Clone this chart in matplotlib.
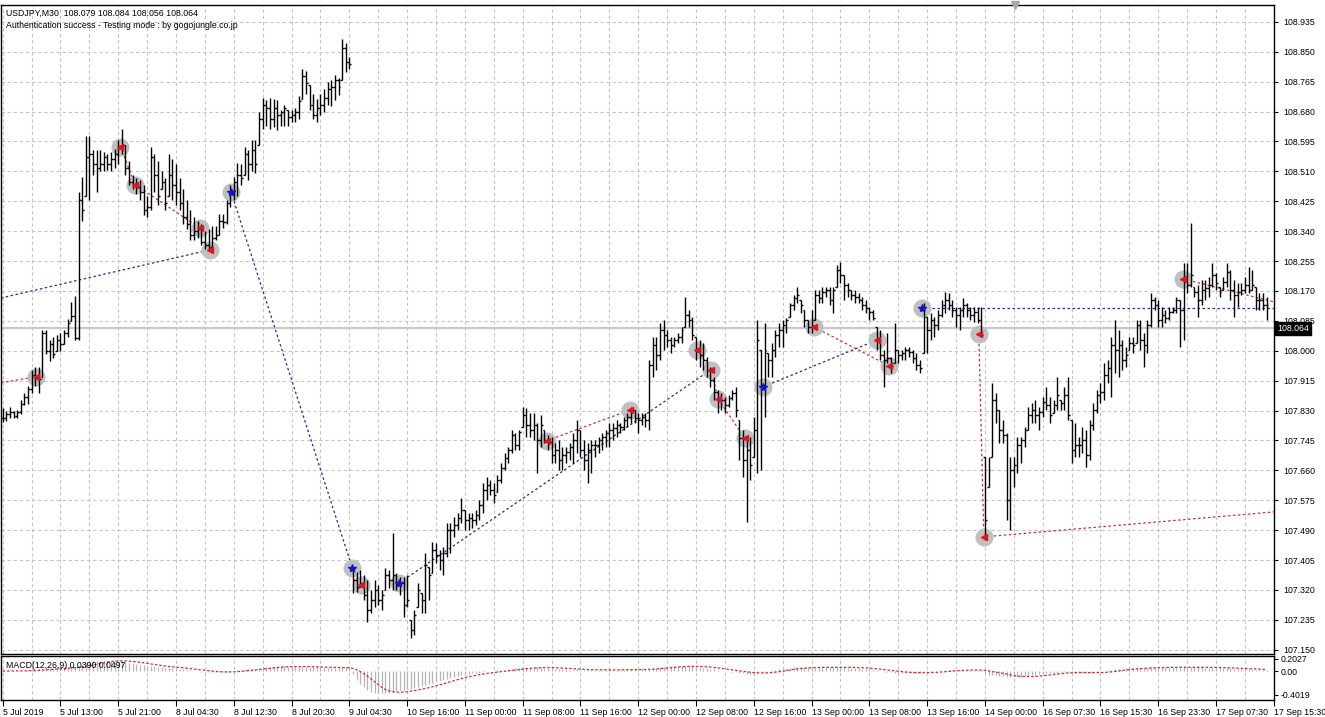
import numpy as np
import pandas as pd
import matplotlib
matplotlib.use('Agg')
import matplotlib.pyplot as plt

plt.rcParams['font.family'] = ['Liberation Sans', 'DejaVu Sans']

# USDJPY M30 bars (5 Jul 2019 ... 9 Jul, then 10 Sep ... 17 Sep)
highs = [
 107.837,107.830,107.840,107.830,107.832,107.860,107.880,107.900,107.945,107.955,
 107.955,108.060,108.060,108.030,108.040,108.045,108.050,108.060,108.090,108.140,
 108.155,108.450,108.495,108.610,108.610,108.570,108.570,108.570,108.565,108.560,
 108.565,108.575,108.600,108.630,108.585,108.540,108.500,108.490,108.485,108.470,
 108.440,108.580,108.560,108.540,108.510,108.490,108.560,108.545,108.530,108.490,
 108.460,108.430,108.400,108.380,108.370,108.360,108.340,108.345,108.355,108.355,
 108.390,108.390,108.430,108.470,108.495,108.535,108.530,108.580,108.570,108.600,
 108.600,108.680,108.720,108.713,108.720,108.715,108.713,108.685,108.700,108.685,
 108.685,108.690,108.725,108.800,108.795,108.755,108.730,108.715,108.730,108.745,
 108.765,108.770,108.785,108.775,108.885,108.875,108.835,
 107.385,107.371,107.377,107.363,107.349,107.320,107.349,107.334,107.320,107.383,
 107.377,107.482,107.368,107.357,107.357,107.363,107.235,107.263,107.340,107.312,
 107.425,107.385,107.457,107.454,107.434,107.442,107.511,107.511,107.528,107.539,
 107.582,107.548,107.539,107.539,107.548,107.576,107.624,107.641,107.633,107.624,
 107.647,107.681,107.710,107.727,107.775,107.767,107.775,107.840,107.838,107.823,
 107.823,107.795,107.818,107.775,107.761,107.755,107.738,107.747,107.727,107.727,
 107.738,107.767,107.803,107.775,107.747,107.738,107.747,107.747,107.755,107.767,
 107.775,107.795,107.795,107.803,107.795,107.812,107.823,107.840,107.832,107.823,
 107.823,107.823,
 107.974,108.039,108.039,108.079,108.088,108.059,108.039,108.039,108.051,108.068,
 108.153,108.116,108.096,108.039,108.031,108.022,107.983,107.954,107.926,107.889,
 107.880,107.869,107.875,107.889,107.897,107.803,107.775,107.755,107.755,107.812,
 108.088,108.002,108.079,107.994,108.022,108.059,108.079,108.088,108.093,108.136,
 108.159,108.182,108.145,108.116,108.088,108.116,108.173,108.173,108.182,108.182,
 108.182,108.182,108.244,108.253,108.216,108.193,108.173,108.173,108.164,108.153,
 108.145,108.125,108.116,108.068,108.059,108.002,108.051,107.983,108.079,108.002,
 108.002,108.011,108.011,108.002,107.994,107.974,108.136,108.096,108.108,108.096,
 108.116,108.145,108.167,108.164,108.145,108.125,108.125,108.150,108.136,108.125,
 108.125,108.125,108.125,
 107.698,107.698,107.909,107.880,107.832,107.803,107.767,107.698,107.698,107.755,
 107.755,107.784,107.840,107.852,107.860,107.840,107.869,107.897,107.869,107.860,
 107.926,107.860,107.897,107.926,107.803,107.795,107.755,107.784,107.775,107.803,
 107.852,107.889,107.909,107.966,107.974,108.039,108.088,108.059,108.031,108.011,
 108.039,108.039,108.088,108.088,108.051,108.088,108.164,108.153,108.145,108.125,
 108.116,108.125,108.125,108.153,108.145,108.250,108.250,108.363,108.182,108.187,
 108.201,108.201,108.210,108.250,108.221,108.182,108.210,108.250,108.230,108.201,
 108.193,108.193,108.210,108.238,108.230,108.182,108.164,108.164,108.153]
lows = [
 107.797,107.800,107.810,107.808,107.808,107.820,107.845,107.850,107.880,107.900,
 107.880,107.925,107.990,107.970,107.980,108.000,108.000,108.020,108.040,108.085,
 108.030,108.030,108.370,108.440,108.430,108.500,108.450,108.510,108.510,108.515,
 108.510,108.520,108.530,108.560,108.500,108.470,108.460,108.445,108.430,108.385,
 108.380,108.400,108.450,108.415,108.460,108.400,108.440,108.430,108.415,108.400,
 108.360,108.345,108.315,108.315,108.320,108.300,108.290,108.285,108.295,108.315,
 108.330,108.350,108.360,108.410,108.430,108.440,108.470,108.500,108.485,108.510,
 108.505,108.585,108.630,108.640,108.630,108.635,108.628,108.640,108.640,108.640,
 108.650,108.650,108.660,108.715,108.730,108.685,108.660,108.650,108.670,108.680,
 108.700,108.695,108.713,108.727,108.770,108.792,108.800,
 107.312,107.314,107.329,107.292,107.229,107.255,107.272,107.277,107.263,107.320,
 107.326,107.320,107.320,107.306,107.243,107.272,107.184,107.192,107.272,107.255,
 107.255,107.292,107.368,107.397,107.377,107.363,107.414,107.425,107.471,107.491,
 107.511,107.491,107.491,107.496,107.505,107.519,107.539,107.576,107.590,107.568,
 107.599,107.624,107.661,107.681,107.710,107.718,107.718,107.784,107.755,107.755,
 107.747,107.653,107.727,107.738,107.718,107.681,107.681,107.661,107.661,107.681,
 107.690,107.681,107.710,107.698,107.661,107.624,107.653,107.698,107.710,107.718,
 107.727,107.727,107.747,107.755,107.767,107.775,107.784,107.795,107.795,107.767,
 107.789,107.784,
 107.775,107.926,107.946,107.974,108.002,108.011,107.994,108.011,108.022,108.022,
 108.068,108.068,108.031,107.974,107.954,107.946,107.926,107.897,107.860,107.823,
 107.832,107.823,107.840,107.860,107.812,107.690,107.641,107.513,107.633,107.698,
 107.653,107.661,107.812,107.926,107.926,107.983,108.011,108.011,108.051,108.096,
 108.116,108.136,108.108,108.068,108.051,108.051,108.088,108.136,108.136,108.153,
 108.130,108.108,108.182,108.193,108.145,108.153,108.145,108.136,108.136,108.116,
 108.108,108.088,108.088,108.002,107.974,107.897,107.966,107.937,107.966,107.966,
 107.974,107.974,107.983,107.966,107.946,107.937,107.994,107.994,108.031,108.039,
 108.059,108.096,108.108,108.116,108.096,108.068,108.059,108.096,108.096,108.088,
 108.082,108.079,108.039,
 107.462,107.613,107.698,107.795,107.738,107.738,107.519,107.491,107.613,107.653,
 107.681,107.727,107.775,107.795,107.795,107.775,107.812,107.832,107.795,107.823,
 107.832,107.832,107.832,107.803,107.681,107.698,107.698,107.710,107.670,107.690,
 107.775,107.823,107.852,107.860,107.909,107.869,107.937,107.926,107.946,107.954,
 108.002,107.994,108.022,108.002,107.954,107.994,108.068,108.116,108.068,108.068,
 108.079,108.088,108.108,108.108,108.011,108.031,108.164,108.182,108.153,108.096,
 108.130,108.145,108.153,108.182,108.173,108.153,108.173,108.182,108.145,108.096,
 108.125,108.159,108.164,108.164,108.173,108.116,108.116,108.116,108.088]
closes = [
 107.810,107.820,107.825,107.815,107.826,107.850,107.870,107.890,107.930,107.925,
 107.920,108.050,108.000,108.020,107.990,108.030,108.020,108.050,108.080,108.100,
 108.035,108.430,108.400,108.550,108.560,108.530,108.520,108.530,108.550,108.530,
 108.545,108.560,108.580,108.585,108.520,108.480,108.470,108.465,108.450,108.400,
 108.410,108.550,108.500,108.440,108.480,108.420,108.500,108.470,108.450,108.420,
 108.380,108.360,108.330,108.340,108.345,108.310,108.300,108.290,108.320,108.330,
 108.370,108.365,108.420,108.455,108.480,108.500,108.490,108.560,108.530,108.570,
 108.530,108.660,108.700,108.690,108.660,108.690,108.670,108.680,108.690,108.665,
 108.670,108.680,108.710,108.780,108.760,108.700,108.670,108.690,108.700,108.720,
 108.745,108.750,108.770,108.750,108.860,108.820,108.815,
 107.349,107.326,107.340,107.306,107.263,107.292,107.320,107.292,107.306,107.363,
 107.349,107.363,107.334,107.340,107.278,107.292,107.206,107.249,107.320,107.292,
 107.391,107.363,107.434,107.420,107.405,107.425,107.491,107.491,107.505,107.525,
 107.548,107.519,107.525,107.519,107.533,107.562,107.604,107.619,107.604,107.590,
 107.633,107.667,107.695,107.718,107.761,107.732,107.769,107.818,107.789,107.775,
 107.789,107.747,107.789,107.747,107.741,107.704,107.718,107.690,107.704,107.712,
 107.727,107.747,107.775,107.718,107.690,107.718,107.732,107.732,107.747,107.755,
 107.767,107.775,107.781,107.789,107.784,107.803,107.812,107.832,107.809,107.803,
 107.812,107.803,
 107.960,108.017,107.988,108.059,108.045,108.031,108.017,108.031,108.039,108.059,
 108.102,108.088,108.045,108.002,107.988,107.974,107.946,107.917,107.883,107.860,
 107.860,107.846,107.866,107.880,107.832,107.752,107.690,107.718,107.676,107.775,
 108.031,107.903,108.002,107.974,108.002,108.045,108.059,108.074,108.088,108.130,
 108.150,108.159,108.130,108.088,108.068,108.074,108.159,108.150,108.167,108.173,
 108.145,108.173,108.230,108.216,108.187,108.173,108.159,108.153,108.145,108.130,
 108.122,108.111,108.093,108.031,107.988,107.974,107.980,107.957,108.002,107.988,
 107.994,108.002,107.997,107.980,107.960,107.951,108.116,108.059,108.088,108.074,
 108.102,108.130,108.145,108.130,108.116,108.102,108.116,108.130,108.116,108.102,
 108.111,108.088,108.045,
 107.519,107.661,107.860,107.832,107.775,107.761,107.576,107.661,107.676,107.732,
 107.747,107.775,107.818,107.832,107.818,107.826,107.855,107.846,107.818,107.846,
 107.875,107.852,107.875,107.818,107.718,107.732,107.732,107.747,107.704,107.789,
 107.832,107.875,107.883,107.931,107.951,108.017,108.002,108.017,107.974,107.988,
 108.022,108.017,108.074,108.031,108.017,108.074,108.145,108.130,108.088,108.102,
 108.093,108.111,108.116,108.145,108.116,108.201,108.187,108.216,108.167,108.145,
 108.173,108.179,108.187,108.216,108.193,108.167,108.196,108.224,108.173,108.159,
 108.167,108.173,108.187,108.173,108.187,108.145,108.145,108.130,108.130]

time_labels = ['5 Jul 2019','5 Jul 13:00','5 Jul 21:00','8 Jul 04:30','8 Jul 12:30',
               '8 Jul 20:30','9 Jul 04:30','10 Sep 16:00','11 Sep 00:00','11 Sep 08:00',
               '11 Sep 16:00','12 Sep 00:00','12 Sep 08:00','12 Sep 16:00','13 Sep 00:00',
               '13 Sep 08:00','13 Sep 16:00','14 Sep 00:00','16 Sep 07:30','16 Sep 15:30',
               '16 Sep 23:30','17 Sep 07:30','17 Sep 15:30']
price_levels = [108.935,108.850,108.765,108.680,108.595,108.510,108.425,108.340,108.255,
                108.170,108.085,108.000,107.915,107.830,107.745,107.660,107.575,107.490,
                107.405,107.320,107.235,107.150]
last_price = 108.064

# trades: (bar, price, side)
mark_bar = [9.1,32.6,36.7,54.6,57.4,63.2,96.8,99.3,109.8,150.6,173.8,192.3,196.1,198.1,
            205.5,210.5,224.6,242.2,245.5,254.6,270.3,271.7,326.9]
mark_price = [107.926,108.580,108.472,108.349,108.287,108.452,107.383,107.334,107.340,
              107.744,107.832,108.002,107.946,107.863,107.752,107.897,108.068,108.031,
              107.957,108.122,108.048,107.471,108.204]
mark_side = ['s','s','s','s','s','b','b','s','b','s','s','s','s','s','s','b','s','s','s',
             'b','s','s','s']
red_links = [(-0.5,107.909,9.1,107.926),(32.6,108.580,36.7,108.472),(36.7,108.472,54.6,108.349),
             (96.8,107.383,99.3,107.334),(150.6,107.744,173.8,107.832),(192.3,108.002,196.1,107.946),
             (196.1,107.946,198.1,107.863),(198.1,107.863,205.5,107.752),(224.6,108.068,245.5,107.957),
             (270.3,108.048,271.7,107.471),(271.7,107.471,352.1,107.542),(326.9,108.204,352.1,108.139)]
blue_links = [(-0.5,108.150,57.4,108.287),(63.2,108.452,96.8,107.383),(109.8,107.340,196.1,107.946),
              (210.5,107.897,242.2,108.031),(254.6,108.122,352.1,108.122)]
shift_bar = 280.3

W, H = 1325, 717
fig = plt.figure(figsize=(W/100, H/100), dpi=100)
ax = fig.add_axes([1/W, 1-654/H, 1273/W, 649/H])
mx = fig.add_axes([1/W, 1-700/H, 1273/W, 44/H])

n = len(closes)
x = np.arange(n)
hi = np.array(highs); lo = np.array(lows); cl = np.array(closes)
op = np.clip(np.r_[cl[0], cl[:-1]], lo, hi)

grid_kw = dict(color='#c4c4c4', lw=0.8, linestyle=(0, (3, 2.5)))
for a in (ax, mx):
    a.set_xlim(-0.47, 352.05)
    a.set_facecolor('white')
    for s in a.spines.values():
        s.set_color('black'); s.set_linewidth(1.0)
    a.set_xticks(np.arange(0, 353, 16))
    a.set_xticks(np.arange(0, 353, 8), minor=True)
    a.grid(True, which='both', axis='x', **grid_kw)
    a.set_axisbelow(True)

ax.set_ylim(107.138, 108.983)
ax.set_yticks(price_levels)
ax.set_yticklabels(['%.3f' % p for p in price_levels])
ax.grid(True, axis='y', **grid_kw)
ax.yaxis.tick_right()
ax.tick_params(axis='y', length=3, width=0.8, pad=4, labelsize=6.3, colors='black')
ax.tick_params(axis='x', which='both', length=0, labelbottom=False)

ax.axhline(last_price, color='#c8c8c8', lw=1.6, zorder=1)

# trade links
for b0, p0, b1, p1 in red_links:
    ax.plot([b0, b1], [p0, p1], color='#c83232', lw=0.9, dashes=(2, 2), zorder=2)
for b0, p0, b1, p1 in blue_links:
    ax.plot([b0, b1], [p0, p1], color='#2a2a9a', lw=0.9, dashes=(2, 2), zorder=2)

ax.plot(mark_bar, mark_price, 'o', ms=13, color='#c0c0c0', mec='none', zorder=2.5)

# OHLC bars
ax.vlines(x, lo, hi, color='black', lw=1.0, zorder=3)
ax.hlines(op, x - 0.5, x, color='black', lw=1.0, zorder=3)
ax.hlines(cl, x, x + 0.5, color='black', lw=1.0, zorder=3)

for b, p, s in zip(mark_bar, mark_price, mark_side):
    if s == 's':
        ax.plot(b, p, marker='<', ms=4.5, color='#e0141e', mec='#e0141e', zorder=4)
    else:
        ax.plot(b, p, marker='*', ms=6, color='#1414c8', mec='#1414c8', zorder=4)

# chart shift marker
ax.plot(shift_bar, 1.0, marker='v', ms=6, color='#a8a8a8', mec='#a8a8a8',
        transform=ax.get_xaxis_transform(), clip_on=False, zorder=6)

ax.text(1.0025, last_price, '%.3f' % last_price, transform=ax.get_yaxis_transform(),
        fontsize=6.3, color='white', va='center', ha='left', zorder=10,
        bbox=dict(boxstyle='square,pad=0.2', fc='black', ec='black'), clip_on=False)

fig.text(6/W, 1-13/H, 'USDJPY,M30  108.079 108.084 108.056 108.064', fontsize=6.3, va='center')
fig.text(6/W, 1-25/H, 'Authentication success - Testing mode : by gogojungle.co.jp',
         fontsize=6.3, va='center')

# MACD(12,26,9) sub window
s = pd.Series(closes)
macd = s.ewm(span=12, adjust=False).mean() - s.ewm(span=26, adjust=False).mean()
signal = macd.rolling(9, min_periods=1).mean()
mx.set_ylim(-0.486, 0.253)
mx.vlines(x, 0, macd.values, color='#b4b4b4', lw=0.9, zorder=2)
mx.plot(x, signal.values, color='#c83232', lw=0.9, dashes=(2, 1.5), zorder=3)
mx.yaxis.tick_right()
mx.set_yticks([0.2027, 0.0, -0.4019])
mx.set_yticklabels(['0.2027', '0.00', '-0.4019'])
mx.tick_params(axis='y', length=3, width=0.8, pad=2, labelsize=6.3)
mx.set_xticklabels(time_labels)
mx.tick_params(axis='x', which='major', length=4, width=0.8, pad=1.5, labelsize=6.3)
mx.tick_params(axis='x', which='minor', length=0)
for t in mx.get_xticklabels():
    t.set_ha('left')
mx.text(5/1273, 0.78, 'MACD(12,26,9) 0.0390 0.0497', transform=mx.transAxes,
        fontsize=6.3, va='center', ha='left')

fig.savefig('out.png', dpi=100, facecolor='white')
